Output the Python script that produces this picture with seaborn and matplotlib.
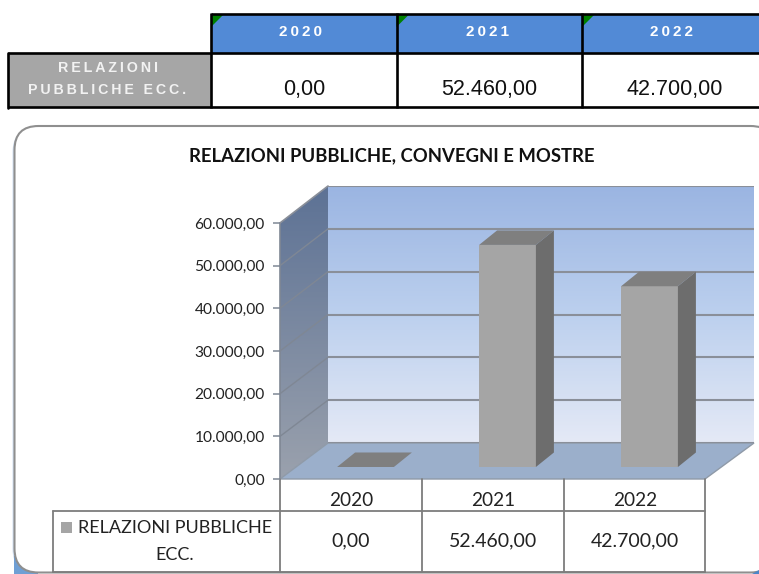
import numpy as np
import pandas as pd
import seaborn as sns
import matplotlib
matplotlib.use("Agg")
import matplotlib.pyplot as plt
from matplotlib.patches import FancyBboxPatch, Polygon, Rectangle
from matplotlib.colors import LinearSegmentedColormap

# Data
years = ["2020", "2021", "2022"]
values = [0.0, 52460.0, 42700.0]
y_ticks = [0, 10000, 20000, 30000, 40000, 50000, 60000]
row_label_top = ["RELAZIONI", "PUBBLICHE ECC."]
row_label_chart = ["RELAZIONI PUBBLICHE", "ECC."]
chart_title = "RELAZIONI PUBBLICHE, CONVEGNI E MOSTRE"

W, H = 759, 574
sns.set_theme(style="white")
plt.rcParams["font.family"] = ["Lato", "DejaVu Sans"]


def euro(v):
    return f"{v:,.2f}".replace(",", "#").replace(".", ",").replace("#", ".")


def track(s):
    # letter spacing of the header cells
    return "\u2009".join(s)


def axes_px(x0, x1, ytop, ybot, z):
    ax = fig.add_axes([x0 / W, 1 - ybot / H, (x1 - x0) / W, (ybot - ytop) / H], zorder=z)
    return ax


fig = plt.figure(figsize=(W / 100, H / 100), dpi=100, facecolor="white")

# background layer in pixel coordinates
bg = axes_px(0, W, 0, H, 0)
bg.set_xlim(0, W)
bg.set_ylim(H, 0)
bg.axis("off")

# top table
bg.add_patch(Rectangle((211, 14), 548, 39, fc="#528ad6", ec="none"))
bg.add_patch(Rectangle((8, 53), 203, 54, fc="#a6a6a6", ec="none"))
cols_top = [211, 396.5, 582, 759]
head_x = [300.5, 488, 672]
value_x = [304.5, 489.5, 675]
for i, yr in enumerate(years):
    x0 = cols_top[i]
    bg.add_patch(Polygon([(x0, 14), (x0 + 13, 14), (x0, 27)], fc="#008000", ec="none"))
    bg.text(head_x[i], 31.5, track(yr), color="white", fontsize=11, fontweight="bold",
            family="Liberation Sans", ha="center", va="center")
    bg.text(value_x[i], 89.5, euro(values[i]), color="#111111", fontsize=15.5,
            family="Liberation Sans", ha="center", va="center")
for y, x0 in [(13.5, 211), (53, 8), (107, 8)]:
    bg.plot([x0, W], [y, y], color="black", lw=1.9, solid_capstyle="butt")
bg.plot([8, 8], [53, 108], color="black", lw=1.9)
for x in cols_top[:3]:
    bg.plot([x, x], [13, 108], color="black", lw=1.9, solid_capstyle="butt")
bg.text(108, 67.5, track(row_label_top[0]), color="#f2f2f2", fontsize=10.3, fontweight="bold",
        family="Liberation Sans", ha="center", va="center")
bg.text(107, 89.5, track(row_label_top[1]), color="#f2f2f2", fontsize=10.2, fontweight="bold",
        family="Liberation Sans", ha="center", va="center")

# chart panel, runs off the right side of the picture
bg.add_patch(FancyBboxPatch((12.5, 128), 760, 445, boxstyle="round,pad=0,rounding_size=24",
                            fc="#d3e1f3", ec="none"))
bg.add_patch(Rectangle((14, 556), 24, 18, fc="#6f9fd4", ec="none"))
bg.add_patch(FancyBboxPatch((14.5, 126), 760, 446.5, boxstyle="round,pad=0,rounding_size=24",
                            fc="white", ec="#8f8f8f", lw=1.5))
bg.add_patch(Polygon([(752, 574), (759, 570), (759, 574)], fc="#4a86c8", ec="none", zorder=2))
bg.text(392, 156, chart_title, color="#111111", fontsize=13.3, fontweight="bold",
        ha="center", va="center")

# left wall
wall_cmap = LinearSegmentedColormap.from_list("side", ["#5d7295", "#9aa1ad"])
side = Polygon([(280, 223), (328, 186), (328, 443), (280, 479)], fc="none", ec="none")
bg.add_patch(side)
im = bg.imshow(np.linspace(0, 1, 100).reshape(-1, 1), cmap=wall_cmap, aspect="auto",
               extent=(280, 328, 479, 186), zorder=1)
im.set_clip_path(side)
bg.set_xlim(0, W)
bg.set_ylim(H, 0)
for v in y_ticks[1:-1]:
    f = v / 60000
    bg.plot([280, 328], [479 - 256 * f, 443 - 257 * f], color="#7f8794", lw=1, zorder=2)
bg.plot([280, 280], [223, 479], color="#7f8794", lw=1.2, zorder=2)
bg.plot([280, 328], [223, 186], color="#8a8f99", lw=1.2, zorder=2)

# floor
bg.add_patch(Polygon([(280, 479), (328, 443), (754, 443), (705, 479)], fc="#9bafcb", ec="#8f9aa8",
                     lw=1, zorder=2))

# chart table
grid_c = "#7d7d7d"
bg.plot([53, 705], [511, 511], color=grid_c, lw=1.3, zorder=3)
bg.plot([53, 705], [571.5, 571.5], color=grid_c, lw=1.3, zorder=3)
bg.plot([53, 53], [511, 571.5], color=grid_c, lw=1.3, zorder=3)
for x in [280, 422, 564, 705]:
    bg.plot([x, x], [479, 571.5], color=grid_c, lw=1.3, zorder=3)
bg.add_patch(Rectangle((61, 522), 11, 11, fc="#a5a5a5", ec="none", zorder=3))
bg.text(175.5, 528, row_label_chart[0], color="#222222", fontsize=13, ha="center", va="center", zorder=3)
bg.text(175, 555, row_label_chart[1], color="#222222", fontsize=13, ha="center", va="center", zorder=3)
for i, yr in enumerate(years):
    xc = 351 + 142 * i
    bg.text(xc, 501, yr, color="#222222", fontsize=13.7, ha="center", va="center", zorder=3)
    bg.text(xc, 541, euro(values[i]), color="#222222", fontsize=14, ha="center", va="center", zorder=3)

# back wall
ax_wall = axes_px(328, 754, 186, 443, 1)
ax_wall.set_xlim(0, 1)
ax_wall.set_ylim(0, 60000)
back_cmap = LinearSegmentedColormap.from_list("back", ["#9bb5e2", "#bcd0ee", "#e4e9f6"])
ax_wall.imshow(np.linspace(0, 1, 100).reshape(-1, 1), cmap=back_cmap, aspect="auto",
               extent=(0, 1, 0, 60000), zorder=0)
ax_wall.set_yticks(y_ticks)
ax_wall.set_xticks([])
ax_wall.tick_params(left=False, labelleft=False)
ax_wall.grid(axis="y", color="#8a8f99", lw=1.5)
ax_wall.set_axisbelow(False)
sns.despine(ax=ax_wall, left=True, bottom=True, right=True, top=True)

# front value axis, only the scale with its labels
ax_front = axes_px(280, 705, 223, 479, 2)
ax_front.patch.set_alpha(0)
ax_front.set_ylim(0, 60000)
ax_front.set_xticks([])
ax_front.set_yticks(y_ticks)
ax_front.set_yticklabels([euro(v) for v in y_ticks], fontsize=11.2, color="#222222")
ax_front.tick_params(axis="y", left=True, length=5, width=1.1, color="#7f8794", pad=6)
sns.despine(ax=ax_front, left=True, bottom=True)

# bars sit halfway into the depth of the floor
ax_bar = axes_px(294.5, 720.5, 213, 467, 3)
ax_bar.patch.set_alpha(0)
df = pd.DataFrame({"anno": years, "valore": values})
sns.barplot(data=df, x="anno", y="valore", ax=ax_bar, color="#a5a5a5", saturation=1, width=0.4, linewidth=0)
ax_bar.set_xlim(-0.5, 2.5)
ax_bar.set_ylim(0, 60000)
ax_bar.axis("off")
depth_x = 18 / 142
depth_y = 14.5 * 60000 / 254
for p in ax_bar.patches:
    x0, x1, h = p.get_x(), p.get_x() + p.get_width(), p.get_height()
    ax_bar.add_patch(Polygon([(x0, h), (x1, h), (x1 + depth_x, h + depth_y), (x0 + depth_x, h + depth_y)],
                             fc="#7f7f7f", ec="none", clip_on=False))
    ax_bar.add_patch(Polygon([(x1, 0), (x1 + depth_x, depth_y), (x1 + depth_x, h + depth_y), (x1, h)],
                             fc="#6d6d6d", ec="none", clip_on=False))

fig.savefig("out.png", dpi=100)
